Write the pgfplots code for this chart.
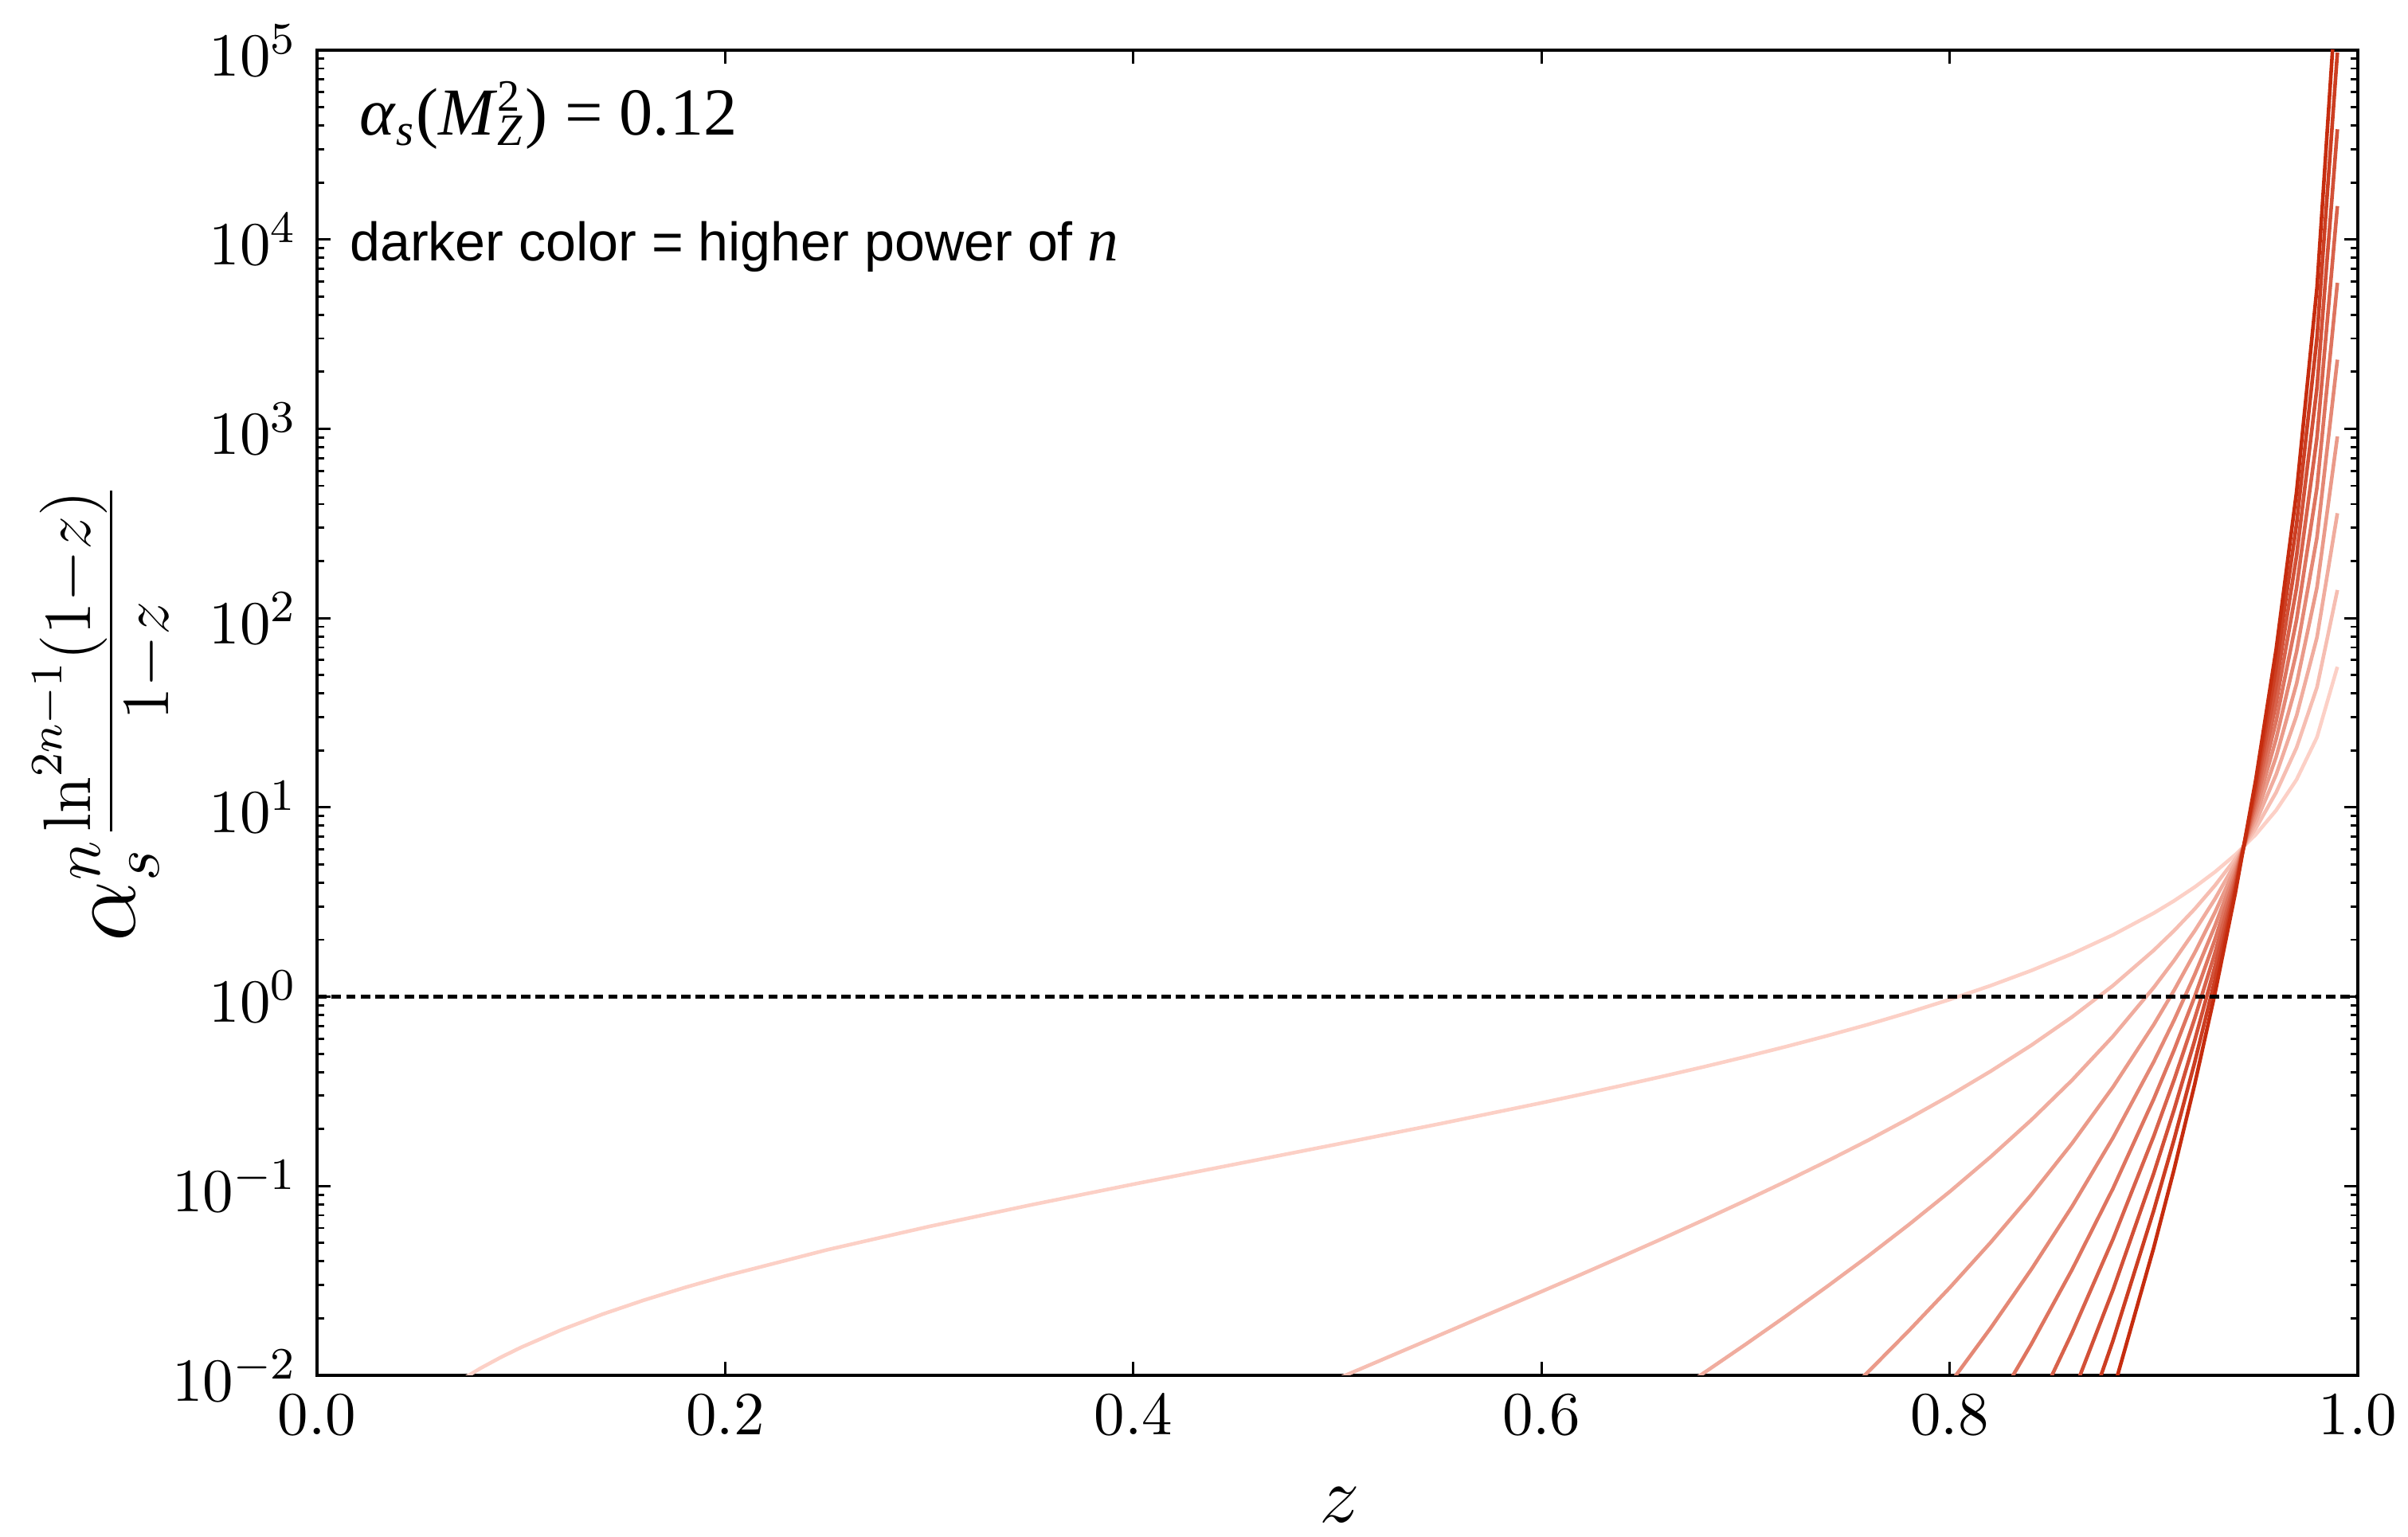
\documentclass[border=0pt]{standalone}
\usepackage{pgfplots}
\pgfplotsset{compat=1.18}
\usepackage{fontspec}
\newfontfamily\arialfont{Liberation Sans}
\newfontfamily\timesfont{Liberation Serif}
\DeclareMathSizes{17.28}{17.28}{12}{8}

\definecolor{lightred}{RGB}{252,208,198}
\definecolor{darkred}{RGB}{198,44,14}
\colorlet{c1}{darkred!0!lightred}
\colorlet{c2}{darkred!11!lightred}
\colorlet{c3}{darkred!22!lightred}
\colorlet{c4}{darkred!33!lightred}
\colorlet{c5}{darkred!44!lightred}
\colorlet{c6}{darkred!56!lightred}
\colorlet{c7}{darkred!67!lightred}
\colorlet{c8}{darkred!78!lightred}
\colorlet{c9}{darkred!89!lightred}
\colorlet{c10}{darkred!100!lightred}

\begin{document}
\begin{tikzpicture}
\begin{axis}[
  scale only axis, width=12.81cm, height=8.32cm,
  xmin=0, xmax=1, ymode=log, ymin=1e-2, ymax=1e5,
  xtick={0,0.2,0.4,0.6,0.8,1.0},
  xticklabel style={/pgf/number format/.cd, fixed, fixed zerofill, precision=1},
  xtick pos=both, ytick pos=both, tick align=inside,
  major tick length=0.085cm, minor tick length=0.045cm,
  every tick/.style={black, line width=0.4pt},
  axis line style={line width=0.7pt},
  tick label style={font=\fontsize{10.95}{13}\selectfont},
  xlabel={$z$},
  ylabel={$\alpha_s^n\frac{\ln^{2n-1}(1-z)}{1-z}$},
  every axis x label/.style={at={(axis description cs:0.501,-0.111)}, anchor=base,
    inner sep=0pt, font=\fontsize{14.4}{17}\selectfont},
  every axis y label/.style={at={(axis description cs:-0.1046,0.5)}, anchor=center,
    rotate=90, inner sep=0pt, font=\fontsize{17.28}{20}\selectfont},
  every axis plot/.append style={line width=0.65pt},
]
% n = 1
\addplot[c1] coordinates {
(0.07,9.36e-3) (0.08,1.088e-2) (0.09,1.244e-2) (0.10,1.405e-2) (0.12,1.743e-2)
(0.14,2.105e-2) (0.16,2.491e-2) (0.18,2.904e-2) (0.20,3.347e-2) (0.25,4.603e-2)
(0.30,6.114e-2) (0.35,7.953e-2) (0.40,0.1022) (0.45,0.1304) (0.50,0.1664)
(0.55,0.2129) (0.60,0.2749) (0.62,0.3056) (0.64,0.3406) (0.66,0.3808)
(0.68,0.4273) (0.70,0.4816) (0.72,0.5456) (0.74,0.6217) (0.76,0.7131)
(0.78,0.8259) (0.80,0.9657) (0.82,1.1432) (0.84,1.3744) (0.86,1.6852)
(0.88,2.1203) (0.90,2.7631) (0.91,3.2106) (0.92,3.7886) (0.93,4.5587)
(0.94,5.6268) (0.95,7.1898) (0.96,9.6566) (0.97,14.026) (0.98,23.472) (0.99,55.262)};
% n = 2
\addplot[c2] coordinates {
(0.50,9.590e-3) (0.55,1.629e-2) (0.60,2.770e-2) (0.62,3.433e-2) (0.64,4.266e-2)
(0.66,5.318e-2) (0.68,6.657e-2) (0.70,8.377e-2) (0.72,0.10609) (0.74,0.13538)
(0.76,0.17427) (0.78,0.22721) (0.80,0.30005) (0.82,0.40339) (0.84,0.55391)
(0.86,0.78166) (0.88,1.14383) (0.90,1.75800) (0.91,2.2339) (0.92,2.9002)
(0.93,3.8685) (0.94,5.3451) (0.95,7.7428) (0.96,12.007) (0.97,20.696)
(0.98,43.106) (0.99,140.66)};
% n = 3
\addplot[c3] coordinates {
(0.64,5.343e-3) (0.66,7.427e-3) (0.68,1.0372e-2) (0.70,1.4572e-2) (0.72,2.0629e-2)
(0.74,2.948e-2) (0.76,4.2592e-2) (0.78,6.2508e-2) (0.80,9.3267e-2) (0.82,0.14234)
(0.84,0.22323) (0.86,0.36259) (0.88,0.61706) (0.90,1.11852) (0.91,1.5543)
(0.92,2.2202) (0.93,3.2828) (0.94,5.0770) (0.95,8.3384) (0.96,14.928)
(0.97,30.537) (0.98,79.163) (0.99,357.93)};
% n = 4
\addplot[c4] coordinates {
(0.74,6.419e-3) (0.76,1.0410e-2) (0.78,1.7198e-2) (0.80,2.900e-2) (0.82,5.0229e-2)
(0.84,8.9961e-2) (0.86,0.16819) (0.88,0.33290) (0.90,0.71155) (0.91,1.0814)
(0.92,1.6996) (0.93,2.7858) (0.94,4.8225) (0.95,8.9797) (0.96,18.561)
(0.97,45.058) (0.98,145.38) (0.99,910.84)};
% n = 5
\addplot[c5] coordinates {
(0.78,4.731e-3) (0.80,9.015e-3) (0.82,1.7722e-2) (0.84,3.6255e-2) (0.86,7.8024e-2)
(0.88,0.17957) (0.90,0.45277) (0.91,0.75241) (0.92,1.3011) (0.93,2.3640)
(0.94,4.5806) (0.95,9.6703) (0.96,23.077) (0.97,66.483) (0.98,266.98) (0.99,2318.3)};
% n = 6
\addplot[c6] coordinates {
(0.80,2.803e-3) (0.82,6.254e-3) (0.84,1.4610e-2) (0.86,3.6200e-2) (0.88,9.687e-2)
(0.90,0.28808) (0.91,0.52353) (0.92,0.99605) (0.93,2.0061) (0.94,4.3509)
(0.95,10.414) (0.96,28.693) (0.97,98.093) (0.98,490.34) (0.99,5899.7)};
% n = 7
\addplot[c7] coordinates {
(0.82,2.207e-3) (0.84,5.888e-3) (0.86,1.6795e-2) (0.88,5.2262e-2) (0.90,0.18329)
(0.91,0.36425) (0.92,0.76249) (0.93,1.7023) (0.94,4.1327) (0.95,11.215)
(0.96,35.675) (0.97,144.74) (0.98,900.5) (0.99,15013)};
% n = 8
\addplot[c8] coordinates {
(0.84,2.373e-3) (0.86,7.790e-3) (0.88,2.8190e-2) (0.90,0.11660) (0.91,0.25345)
(0.92,0.58370) (0.93,1.4446) (0.94,3.9254) (0.95,12.078) (0.96,44.357)
(0.97,213.56) (0.98,1653.8) (0.99,38209)};
% n = 9
\addplot[c9] coordinates {
(0.86,3.613e-3) (0.88,1.5208e-2) (0.90,7.4196e-2) (0.91,0.17635) (0.92,0.44683)
(0.93,1.2259) (0.94,3.7286) (0.95,13.007) (0.96,55.150) (0.97,315.11)
(0.98,3037.2) (0.99,97231)};
% n = 10
\addplot[c10] coordinates {
(0.86,1.676e-3) (0.88,8.205e-3) (0.90,4.7204e-2) (0.91,0.12270) (0.92,0.34206)
(0.93,1.0403) (0.94,3.5416) (0.95,14.007) (0.96,68.571) (0.97,464.95)
(0.98,5576.7) (0.99,247410)};
% reference line at 1
\addplot[black, line width=0.7pt, dash pattern=on 1.7pt off 0.9pt] coordinates {(0,1) (1,1)};

\node[anchor=base west, inner sep=0pt, font=\timesfont\fontsize{12}{14}\selectfont]
  at (axis description cs:0.0203,0.9357)
  {\textit{α}\textsubscript{\textit{s}}(\textit{M}\rlap{\textsuperscript{2}}\textsubscript{\textit{Z}}) = 0.12};
\node[anchor=base west, inner sep=0pt, font=\arialfont\fontsize{9.7}{12}\selectfont]
  at (axis description cs:0.0156,0.8413)
  {darker color = higher power of {\timesfont\itshape\fontsize{11}{12}\selectfont n}};
\end{axis}
% page margins as in the reference
\pgfresetboundingbox
\path[use as bounding box]
  ([shift={(-1.99cm,-1.015cm)}]current axis.south west)
  rectangle ([shift={(0.315cm,0.315cm)}]current axis.north east);
\end{tikzpicture}
\end{document}
